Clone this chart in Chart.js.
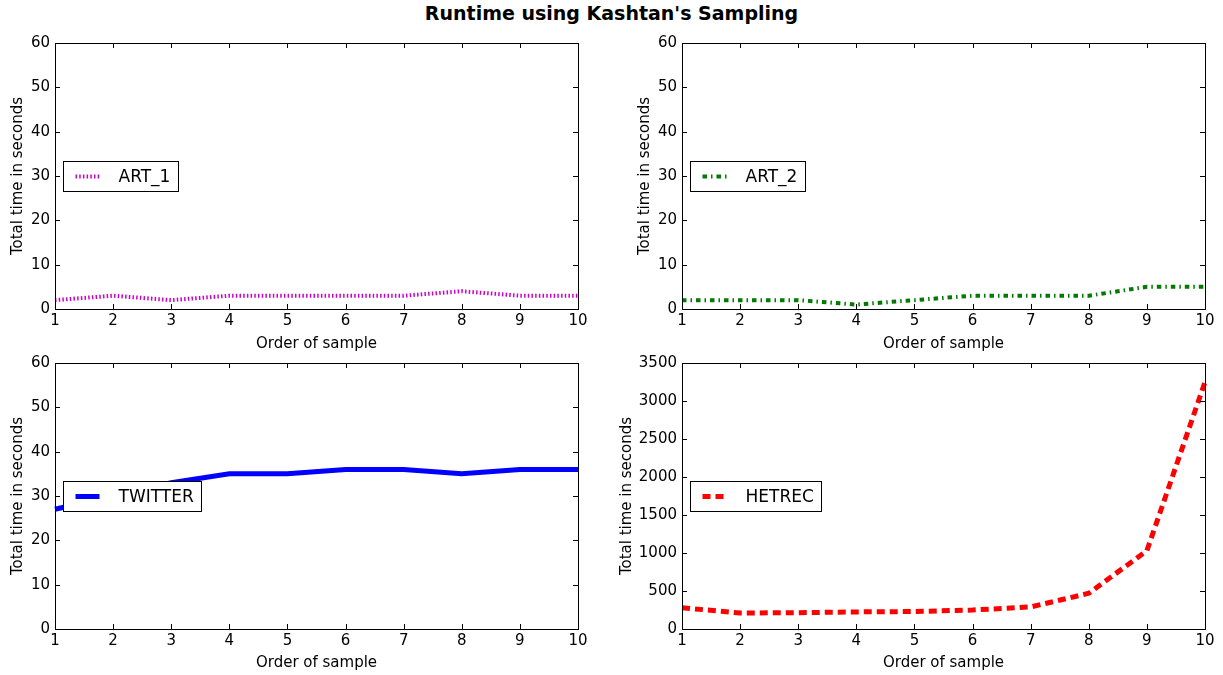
<!DOCTYPE html>
<html>
<head>
<meta charset="utf-8">
<script src="https://cdn.jsdelivr.net/npm/chart.js@4.4.0/dist/chart.umd.min.js"></script>
<style>
  body { margin: 0; background: #fff; width: 1223px; height: 675px; position: relative; overflow: hidden; }
  #title { position: absolute; left: 0; width: 1223px; top: 2px; text-align: center;
           font: bold 19px "DejaVu Sans", sans-serif; color: #000; }
  canvas { position: absolute; }
</style>
</head>
<body>
<div id="title">Runtime using Kashtan's Sampling</div>
<canvas id="c1" style="left:0;top:0" width="611" height="354"></canvas>
<canvas id="c2" style="left:611px;top:0" width="612" height="354"></canvas>
<canvas id="c3" style="left:0;top:340px" width="611" height="335"></canvas>
<canvas id="c4" style="left:611px;top:340px" width="612" height="335"></canvas>
<script>
var samples = ['1', '2', '3', '4', '5', '6', '7', '8', '9', '10'];
var art1Times = [2, 3, 2, 3, 3, 3, 3, 4, 3, 3];
var art2Times = [2, 2, 2, 1, 2, 3, 3, 3, 5, 5];
var twitterTimes = [27, 30, 33, 35, 35, 36, 36, 35, 36, 36];
var hetrecTimes = [280, 210, 215, 225, 230, 250, 290, 470, 1030, 3250];

var FONT = '"DejaVu Sans", sans-serif';

// ticks pointing inward on all four sides + frame + legend box (centre left)
var framePlugin = {
    id: 'frame',
    afterDraw: function(chart) {
        var ctx = chart.ctx, a = chart.chartArea;
        var xs = chart.scales.x, ys = chart.scales.y;
        ctx.save();
        ctx.strokeStyle = '#000';
        ctx.lineWidth = 1;
        ctx.beginPath();
        xs.ticks.forEach(function(t, i) {
            var px = Math.round(xs.getPixelForTick(i)) + 0.5;
            ctx.moveTo(px, a.bottom); ctx.lineTo(px, a.bottom - 5);
            ctx.moveTo(px, a.top); ctx.lineTo(px, a.top + 5);
        });
        ys.ticks.forEach(function(t, i) {
            var py = Math.round(ys.getPixelForTick(i)) + 0.5;
            ctx.moveTo(a.left, py); ctx.lineTo(a.left + 5, py);
            ctx.moveTo(a.right, py); ctx.lineTo(a.right - 5, py);
        });
        ctx.stroke();
        ctx.strokeRect(Math.round(a.left) + 0.5, Math.round(a.top) + 0.5,
                       Math.round(a.right - a.left), Math.round(a.bottom - a.top));

        // legend
        var ds = chart.data.datasets[0];
        ctx.font = '17px ' + FONT;
        var tw = ctx.measureText(ds.label).width;
        var bx = Math.round(a.left) + 8.5, bh = 30;
        var by = Math.round((a.top + a.bottom) / 2 - bh / 2) + 0.5;
        var bw = Math.round(55 + tw + 8);
        ctx.fillStyle = '#fff';
        ctx.fillRect(bx, by, bw, bh);
        ctx.strokeRect(bx, by, bw, bh);
        ctx.beginPath();
        ctx.strokeStyle = ds.borderColor;
        ctx.lineWidth = ds.borderWidth;
        ctx.setLineDash(ds.borderDash || []);
        ctx.moveTo(bx + 12, by + bh / 2);
        ctx.lineTo(bx + 36, by + bh / 2);
        ctx.stroke();
        ctx.setLineDash([]);
        ctx.fillStyle = '#000';
        ctx.textBaseline = 'middle';
        ctx.fillText(ds.label, bx + 55, by + bh / 2 + 1);
        ctx.restore();
    }
};

function makeChart(id, label, values, color, dash, width, yMax, yStep, pad, yWidth, xHeight) {
    return new Chart(document.getElementById(id).getContext('2d'), {
        type: 'line',
        data: {
            labels: samples,
            datasets: [{
                label: label,
                data: values,
                borderColor: color,
                borderWidth: width,
                borderDash: dash,
                backgroundColor: 'transparent',
                pointRadius: 0,
                tension: 0
            }]
        },
        options: {
            responsive: false,
            animation: false,
            layout: { padding: pad },
            plugins: { legend: { display: false }, tooltip: { enabled: false } },
            scales: {
                x: {
                    offset: false,
                    grid: { display: false, drawTicks: false, tickLength: 0 },
                    border: { display: false },
                    ticks: { color: '#000', font: { family: FONT, size: 15 }, padding: 3, maxRotation: 0, autoSkip: false },
                    title: { display: true, text: 'Order of sample', color: '#000', font: { family: FONT, size: 15 }, padding: 0 },
                    afterFit: function(s) { s.height = xHeight; }
                },
                y: {
                    min: 0,
                    max: yMax,
                    grid: { display: false, drawTicks: false, tickLength: 0 },
                    border: { display: false },
                    ticks: {
                        stepSize: yStep, color: '#000', font: { family: FONT, size: 15 }, padding: 5,
                        callback: function(value) { return String(value); }
                    },
                    title: { display: true, text: 'Total time in seconds', color: '#000', font: { family: FONT, size: 15 }, padding: 0 },
                    afterFit: function(s) { s.width = yWidth; }
                }
            }
        },
        plugins: [framePlugin]
    });
}

makeChart('c1', 'ART_1', art1Times, '#cc00cc', [1.5, 2.2], 4, 60, 10,
    { left: 9, top: 43, right: 33, bottom: 1 }, 46, 44);
makeChart('c2', 'ART_2', art2Times, '#007a00', [4.5, 4, 1.5, 4], 4, 60, 10,
    { left: 25, top: 43, right: 18, bottom: 1 }, 46, 44);
makeChart('c3', 'TWITTER', twitterTimes, '#0000ff', [], 5, 60, 10,
    { left: 9, top: 23, right: 33, bottom: 3 }, 46, 43);
makeChart('c4', 'HETREC', hetrecTimes, '#ff0000', [8, 5], 5, 3500, 500,
    { left: 7, top: 23, right: 18, bottom: 3 }, 64, 43);
</script>
</body>
</html>
